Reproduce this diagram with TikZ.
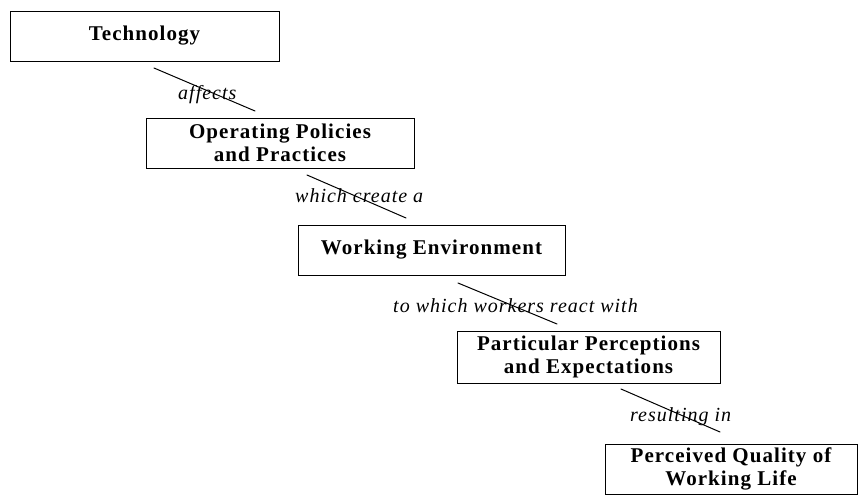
\documentclass[tikz,border=0pt]{standalone}
\usepackage{fontspec}
\setmainfont{Liberation Serif}
\newfontfamily\boxfont[LetterSpace=5]{Liberation Serif}
\newfontfamily\linkfont[LetterSpace=5]{Liberation Serif}
\begin{document}
\begin{tikzpicture}[x=1pt,y=-1pt,
  stage/.style={draw=black, line width=0.8pt, inner sep=0pt, align=center,
    font=\boxfont\bfseries\fontsize{21}{23}\selectfont},
  linktext/.style={anchor=base west, inner sep=0pt,
    font=\linkfont\itshape\fontsize{20}{23}\selectfont},
  link/.style={line width=1pt, line cap=round}]
\useasboundingbox (0,0) rectangle (859,497);

% stages of the chain
\node[stage, minimum width=269pt, minimum height=50pt] (tech) at (144.5,36) {Technology};
\node[stage, minimum width=268pt, minimum height=50pt] (ops) at (280,143) {Operating Policies\\and Practices};
\node[stage, minimum width=267pt, minimum height=50pt] (env) at (431.5,250) {Working Environment};
\node[stage, minimum width=263pt, minimum height=52pt] (perc) at (588.5,357) {Particular Perceptions\\and Expectations};
\node[stage, minimum width=252pt, minimum height=50pt] (qwl) at (731,469) {Perceived Quality of\\Working Life};

% wording of each step
\node[linktext] (t1) at (178,100) {affects};
\node[linktext] (t2) at (295,203) {which create a};
\node[linktext] (t3) at (393,312) {to which workers react with};
\node[linktext] (t4) at (630,421) {resulting in};

% slanted strokes between the stages
\coordinate (a1) at (154,68);  \coordinate (b1) at (255,111);
\coordinate (a2) at (307,175); \coordinate (b2) at (406,218);
\coordinate (a3) at (458,283); \coordinate (b3) at (557,324);
\coordinate (a4) at (621,389); \coordinate (b4) at (720,432);
\draw[link] (a1) -- (b1);
\draw[link] (a2) -- (b2);
\draw[link] (a3) -- (b3);
\draw[link] (a4) -- (b4);
\end{tikzpicture}
\end{document}
